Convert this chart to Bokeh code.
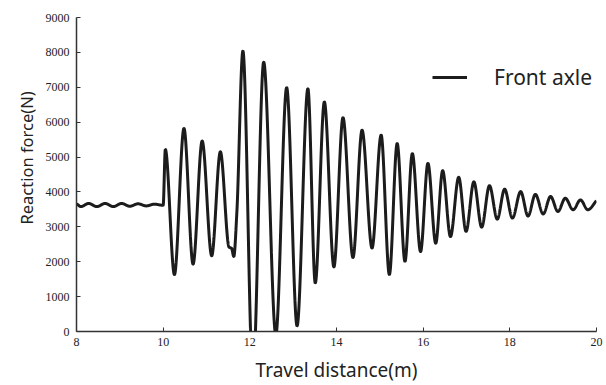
import numpy as np
from bokeh.plotting import figure
from bokeh.models import Range1d, FixedTicker, Legend, Title
from bokeh.embed import file_html
from bokeh.resources import INLINE

# Extrema / key points of the front-axle reaction force
distance_m = [8.00, 8.10, 8.28, 8.47, 8.66, 8.85, 9.04, 9.23, 9.42, 9.61, 9.80, 9.98, 10.00,
              10.05, 10.26, 10.48, 10.69, 10.90, 11.12, 11.32, 11.52, 11.58, 11.63, 11.70,
              11.84, 12.07, 12.32, 12.60, 12.85, 13.09, 13.34, 13.51, 13.72, 13.94, 14.15,
              14.38, 14.59, 14.82, 15.03, 15.22, 15.40, 15.58, 15.75, 15.94, 16.11, 16.29,
              16.45, 16.63, 16.82, 16.99, 17.17, 17.35, 17.53, 17.71, 17.88, 18.06, 18.25,
              18.42, 18.59, 18.77, 18.94, 19.11, 19.28, 19.46, 19.63, 19.80, 20.00]
force_n = [3650, 3580, 3670, 3580, 3670, 3580, 3670, 3590, 3660, 3600, 3650, 3620, 3620,
           5220, 1630, 5820, 1930, 5460, 2170, 5150, 2420, 2380, 2150, 3400,
           8040, -1300, 7720, -100, 6990, 160, 6960, 1390, 6580, 1850, 6130,
           2120, 5770, 2390, 5630, 1630, 5390, 2010, 5100, 2290, 4820, 2530,
           4610, 2720, 4420, 2870, 4290, 2990, 4180, 3220, 4080, 3250, 4010,
           3310, 3930, 3370, 3870, 3440, 3820, 3490, 3770, 3490, 3750]

x_ticks = [8, 10, 12, 14, 16, 18, 20]
y_ticks = [0, 1000, 2000, 3000, 4000, 5000, 6000, 7000, 8000, 9000]
series_name = "Front axle"
x_title = "Travel distance(m)"
y_title = "Reaction force(N)"


def pchip(x, y, xn):
    x = np.asarray(x, float); y = np.asarray(y, float)
    h = np.diff(x); d = np.diff(y) / h
    n = len(x); m = np.zeros(n)
    for k in range(1, n - 1):
        if d[k - 1] * d[k] > 0:
            w1 = 2 * h[k] + h[k - 1]; w2 = h[k] + 2 * h[k - 1]
            m[k] = (w1 + w2) / (w1 / d[k - 1] + w2 / d[k])
    m[0] = 0.0; m[-1] = d[-1]
    idx = np.clip(np.searchsorted(x, xn) - 1, 0, n - 2)
    t = (xn - x[idx]) / h[idx]
    h00 = 2 * t**3 - 3 * t**2 + 1; h10 = t**3 - 2 * t**2 + t
    h01 = -2 * t**3 + 3 * t**2; h11 = t**3 - t**2
    return h00 * y[idx] + h10 * h[idx] * m[idx] + h01 * y[idx + 1] + h11 * h[idx] * m[idx + 1]


xs = np.linspace(distance_m[0], distance_m[-1], 4000)
ys = pchip(distance_m, force_n, xs)

p = figure(width=606, height=385, output_backend="svg", toolbar_location=None,
           x_range=Range1d(8, 20), y_range=Range1d(0, 9000))
p.min_border_left = 76
p.min_border_right = 10
p.min_border_top = 17
p.min_border_bottom = 53
p.outline_line_color = None
p.xgrid.visible = False
p.ygrid.visible = False
p.background_fill_color = "white"
p.border_fill_color = "white"

r = p.line(xs, ys, line_color="#1c1c1c", line_width=3)

for ax in (p.xaxis[0], p.yaxis[0]):
    ax.axis_line_color = "#333333"
    ax.axis_line_width = 1.5
    ax.major_tick_in = 4
    ax.major_tick_out = 0
    ax.major_tick_line_color = "#333333"
    ax.minor_tick_line_color = None
    ax.major_label_text_font = "Liberation Serif"
    ax.major_label_text_font_size = "12px"
    ax.major_label_text_color = "#222222"
    ax.axis_label_text_font = "Noto Sans"
    ax.axis_label_text_font_style = "normal"
    ax.axis_label_text_color = "#222222"

p.xaxis.ticker = FixedTicker(ticks=x_ticks)
p.yaxis.ticker = FixedTicker(ticks=y_ticks)
p.xaxis.axis_label = x_title
p.xaxis.axis_label_text_font_size = "19px"
p.xaxis.major_label_standoff = 6
p.yaxis.major_label_standoff = 7
p.xaxis.axis_label_standoff = 8

# y-axis title as a side title so it can be shifted upward like the original
ytitle = Title(text=y_title, align="left", offset=107, standoff=10,
               text_font="Noto Sans", text_font_size="16.5px",
               text_font_style="normal", text_color="#222222")
p.add_layout(ytitle, "left")

legend = Legend(items=[(series_name, [r])], location=(356, 240))
legend.border_line_alpha = 0
legend.background_fill_alpha = 0
legend.padding = 0
legend.margin = 0
legend.glyph_width = 35
legend.glyph_height = 20
legend.label_height = 20
legend.label_standoff = 27
legend.label_text_font = "Noto Sans"
legend.label_text_font_size = "21px"
legend.label_text_color = "#222222"
p.add_layout(legend, "center")

open("out.html", "w").write(file_html(p, INLINE))
